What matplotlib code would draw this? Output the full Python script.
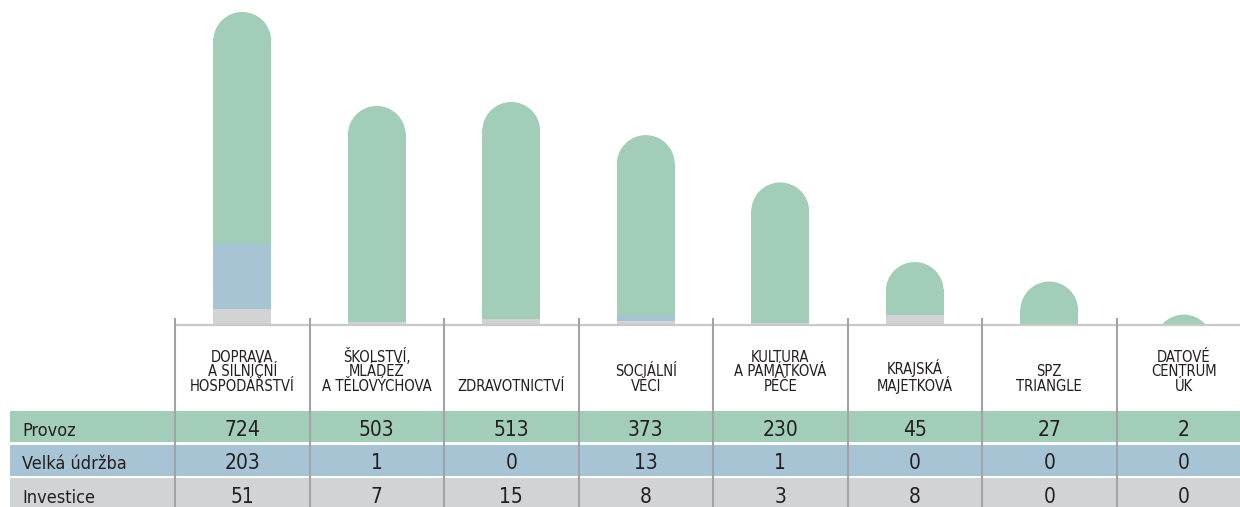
import numpy as np
import matplotlib
matplotlib.use("Agg")
import matplotlib.pyplot as plt
from matplotlib.patches import Wedge
from matplotlib.transforms import ScaledTranslation

# data
categories = ["DOPRAVA\nA SILNIČNÍ\nHOSPODÁŘSTVÍ", "ŠKOLSTVÍ,\nMLÁDEŽ\nA TĚLOVÝCHOVA",
              "ZDRAVOTNICTVÍ", "SOCIÁLNÍ\nVĚCI", "KULTURA\nA PAMÁTKOVÁ\nPÉČE",
              "KRAJSKÁ\nMAJETKOVÁ", "SPZ\nTRIANGLE", "DATOVÉ\nCENTRUM\nÚK"]
provoz = [724, 503, 513, 373, 230, 45, 27, 2]
udrzba = [203, 1, 0, 13, 1, 0, 0, 0]
investice = [51, 7, 15, 8, 3, 8, 0, 0]
row_labels = ["Provoz", "Velká údržba", "Investice"]

GREEN = "#a2cdb9"
BLUE = "#a6c4d4"
GRAY = "#d2d3d5"
SEP = "#a4a4a8"
AXIS = "#c9c9cb"
TXT = "#231f20"
FONT = dict(family="DejaVu Sans", fontstretch="condensed", color=TXT)

W, H, DPI = 1240, 507, 100
fig = plt.figure(figsize=(W / DPI, H / DPI), dpi=DPI)

# layout in pixels
base_px = 325      # axis line from the top
x0, colw = 175, 134.5
xlim = ((0 - x0) / colw - 0.5, (W - x0) / colw - 0.5)
bar_w = 0.43
POW = 0.55


def fwd(v):
    v = np.asarray(v, dtype=float)
    return np.sign(v) * np.abs(v) ** POW


def inv(v):
    v = np.asarray(v, dtype=float)
    return np.sign(v) * np.abs(v) ** (1 / POW)


# ---- bars ----
ax = fig.add_axes([0, (H - base_px) / H, 1, base_px / H])
ax.set_xlim(xlim)
ax.set_yscale("function", functions=(fwd, inv))
ax.set_ylim(0, 1047)
ax.axis("off")

xs = np.arange(len(categories))
totals = np.array(provoz) + np.array(udrzba) + np.array(investice)
r_px = (ax.transData.transform((bar_w, 1))[0] - ax.transData.transform((0, 1))[0]) / 2

for i, x in enumerate(xs):
    tot = totals[i]
    full = fwd(tot)
    # segments share the bar height in proportion
    cum = 0
    bounds = []
    for val in (investice[i], udrzba[i], provoz[i]):
        b = float(inv(full * cum / tot))
        cum += val
        t = float(inv(full * cum / tot))
        bounds.append((b, t))
    ax.bar(x, bounds[0][1] - bounds[0][0], bar_w, bottom=bounds[0][0], color=GRAY, lw=0)
    ax.bar(x, bounds[1][1] - bounds[1][0], bar_w, bottom=bounds[1][0], color=BLUE, lw=0)
    # rounded cap
    top_disp = ax.transData.transform((x, tot))[1]
    cy = ax.transData.inverted().transform((0, top_disp - r_px))[1]
    cy_over = ax.transData.inverted().transform((0, top_disp - r_px + 1.5))[1]
    gb = bounds[2][0]
    if cy_over > gb:
        ax.bar(x, cy_over - gb, bar_w, bottom=gb, color=GREEN, lw=0)
    trans = fig.dpi_scale_trans + ScaledTranslation(x, cy, ax.transData)
    ax.add_patch(Wedge((0, 0), r_px / DPI, 0, 180, transform=trans,
                       facecolor=GREEN, lw=0))

ax.hlines(0, -0.5, xlim[1], color=AXIS, lw=1.6, clip_on=False)

# ---- table ----
row_px = 33.5
row_top = 411
tb = fig.add_axes([0, 0, 1, (H - base_px) / H])
tb.set_xlim(xlim)
tb.set_ylim((H - row_top) / row_px, -(row_top - base_px) / row_px)
tb.axis("off")

left = (10 - x0) / colw - 0.5
tb.barh(np.arange(3) + 0.47, xlim[1] - left, height=0.94, left=left,
        color=[GREEN, BLUE, GRAY], lw=0)

tick_top = -(row_top - base_px + 7) / row_px
tb.vlines(xs - 0.5, tick_top, (H - row_top) / row_px, color=SEP, lw=1.5, clip_on=False)

for i, cat in enumerate(categories):
    tb.text(i, -0.5, cat, ha="center", va="bottom", fontsize=10.6, linespacing=0.98,
            **FONT)

for r, (lab, vals) in enumerate(zip(row_labels, [provoz, udrzba, investice])):
    tb.text((22 - x0) / colw - 0.5, r + 0.74, lab, ha="left", va="baseline",
            fontsize=13, **FONT)
    for i, v in enumerate(vals):
        tb.text(i, r + 0.74, str(v), ha="center", va="baseline", fontsize=15, **FONT)

fig.savefig("out.png", dpi=DPI)
